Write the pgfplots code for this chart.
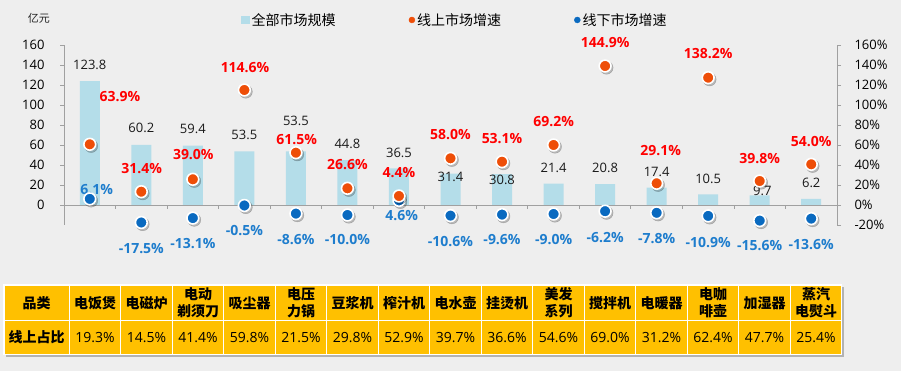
\documentclass[border=0pt]{standalone}
\usepackage{pgfplots}
\pgfplotsset{compat=1.18}
\usepackage{fontspec}
\setmainfont{Open Sans}
\newfontfamily\cjk{Noto Sans CJK SC}
\definecolor{bgc}{RGB}{238,238,238}
\definecolor{barblue}{RGB}{180,221,233}
\definecolor{dotred}{RGB}{238,78,8}
\definecolor{dotblue}{RGB}{10,106,192}
\definecolor{txtred}{RGB}{255,0,0}
\definecolor{txtblue}{RGB}{30,125,205}
\definecolor{axisgray}{RGB}{160,160,160}
\definecolor{tabgold}{RGB}{255,192,0}

\pgfplotstableread{
x bar red blue
0 123.8 60.7 6.1
1 60.2 13.3 -17.5
2 59.4 25.7 -13.1
3 53.5 115.0 -0.5
4 53.5 52.3 -8.6
5 44.8 16.7 -10.0
6 36.5 9.0 4.6
7 31.4 46.7 -10.6
8 30.8 43.3 -9.6
9 21.4 60.0 -9.0
10 20.8 139.0 -6.2
11 17.4 21.7 -7.8
12 10.5 127.3 -10.9
13 9.7 24.0 -15.6
14 6.2 40.7 -13.6
}\datatable

\pgfplotsset{
  common/.style={
    scale only axis, width=773pt, height=180pt,
    xmin=-0.5, xmax=14.5, ymin=-20, ymax=160,
    tick align=outside,
    major tick length=4pt,
    axis line style={draw=axisgray, line width=0.8pt},
    tick style={draw=axisgray, line width=0.8pt},
    /pgf/number format/assume math mode=true,
  }
}

\begin{document}
\begin{tikzpicture}
\fill[bgc] (0pt,0pt) rectangle (901pt,371pt);
\useasboundingbox (0pt,0pt) rectangle (901pt,371pt);

% y axis unit label
\node[font=\cjk\fontsize{11}{13}\selectfont, text=black!85] at (38.8pt,352.7pt) {亿元};

% x axis line at zero with category separators
\begin{axis}[
  at={(64pt,166pt)}, anchor=south west,
  scale only axis, width=773pt, height=20pt,
  xmin=-0.5, xmax=14.5, ymin=0, ymax=1,
  axis x line*=bottom, axis y line=none,
  xtick={0.5,1.5,...,13.5}, xticklabels={},
  tick align=outside, major tick length=4pt,
  axis line style={draw=axisgray, line width=0.8pt},
  tick style={draw=axisgray, line width=0.8pt},
]
\addplot[draw=none, forget plot] coordinates {(0,0)};
\end{axis}

\begin{axis}[
  common,
  at={(64pt,146pt)}, anchor=south west,
  axis x line=none, axis y line*=left,
  ytick={0,20,...,160},
  yticklabel style={font=\fontsize{13}{15}\selectfont, xshift=-12pt},
  clip=false,
  legend style={at={(axis description cs:0.229,1.139)}, anchor=west,
    draw=none, fill=none, inner sep=0pt, legend columns=3,
    font=\cjk\fontsize{14}{16}\selectfont,
    /tikz/every even column/.append style={column sep=71pt}},
  legend cell align=left,
]
\addplot[ybar, bar width=20pt, fill=barblue, draw=none,
  legend image code/.code={\fill[barblue] (0pt,-4.2pt) rectangle (8.5pt,4.2pt);}]
  table[x=x, y=bar] {\datatable};
\addlegendentry{全部市场规模}
\addlegendimage{legend image code/.code={\fill[dotred] (4.2pt,0pt) circle (3pt);}}
\addlegendentry{线上市场增速}
\addlegendimage{legend image code/.code={\fill[dotblue] (4.2pt,0pt) circle (3pt);}}
\addlegendentry{线下市场增速}

% shadows and dots
\addplot[forget plot, only marks, mark=*, mark size=6.6pt,
  mark options={fill=black, draw=none, opacity=0.22, xshift=1.4pt, yshift=-1.7pt}]
  table[x=x, y=blue] {\datatable};
\addplot[forget plot, only marks, mark=*, mark size=5.9pt,
  mark options={fill=dotblue, draw=white, line width=1.6pt}]
  table[x=x, y=blue] {\datatable};
\addplot[forget plot, only marks, mark=*, mark size=6.6pt,
  mark options={fill=black, draw=none, opacity=0.22, xshift=1.4pt, yshift=-1.7pt}]
  table[x=x, y=red] {\datatable};
\addplot[forget plot, only marks, mark=*, mark size=5.9pt,
  mark options={fill=dotred, draw=white, line width=1.6pt}]
  table[x=x, y=red] {\datatable};

% bar value labels
\begin{scope}[every node/.style={font=\fontsize{13}{15}\selectfont, text=black!90}]
\node at (axis cs:0,140) {123.8};
\node at (axis cs:1,76.7) {60.2};
\node at (axis cs:2,75.7) {59.4};
\node at (axis cs:3,70) {53.5};
\node at (axis cs:4,84) {53.5};
\node at (axis cs:5,60.7) {44.8};
\node at (axis cs:6,52.3) {36.5};
\node at (axis cs:7,27.7) {31.4};
\node at (axis cs:8,25.5) {30.8};
\node at (axis cs:9,37) {21.4};
\node at (axis cs:10,37) {20.8};
\node at (axis cs:11,33.3) {17.4};
\node at (axis cs:12,25.7) {10.5};
\node at (axis cs:13.05,14) {9.7};
\node at (axis cs:14,21.7) {6.2};
\end{scope}
% online growth labels
\begin{scope}[every node/.style={font=\bfseries\fontsize{14}{16}\selectfont, text=txtred}]
\node at (axis cs:0.587,108.3) {63.9\%};
\node at (axis cs:1.008,36.7) {31.4\%};
\node at (axis cs:2.009,50) {39.0\%};
\node at (axis cs:3.013,137.3) {114.6\%};
\node at (axis cs:4.016,65.7) {61.5\%};
\node at (axis cs:5,40) {26.6\%};
\node at (axis cs:6,32.3) {4.4\%};
\node at (axis cs:7,70.7) {58.0\%};
\node at (axis cs:8,66) {53.1\%};
\node at (axis cs:9,83.3) {69.2\%};
\node at (axis cs:10,162.3) {144.9\%};
\node at (axis cs:11.08,54.3) {29.1\%};
\node at (axis cs:12,151) {138.2\%};
\node at (axis cs:13,46.7) {39.8\%};
\node at (axis cs:14,63.3) {54.0\%};
\end{scope}
% offline growth labels
\begin{scope}[every node/.style={font=\bfseries\fontsize{14}{16}\selectfont, text=txtblue}]
\node at (axis cs:0.135,15) {6.1\%};
\node at (axis cs:1,-43.3) {-17.5\%};
\node at (axis cs:2,-39) {-13.1\%};
\node at (axis cs:3,-25.7) {-0.5\%};
\node at (axis cs:4,-34.3) {-8.6\%};
\node at (axis cs:5,-35) {-10.0\%};
\node at (axis cs:6.053,-11) {4.6\%};
\node at (axis cs:7,-36.7) {-10.6\%};
\node at (axis cs:8,-34.3) {-9.6\%};
\node at (axis cs:9,-35) {-9.0\%};
\node at (axis cs:10,-32.3) {-6.2\%};
\node at (axis cs:11,-33.3) {-7.8\%};
\node at (axis cs:12,-37.3) {-10.9\%};
\node at (axis cs:13,-40.7) {-15.6\%};
\node at (axis cs:14,-40) {-13.6\%};
\end{scope}
\end{axis}

\begin{axis}[
  common,
  at={(64pt,146pt)}, anchor=south west,
  axis y line*=right, axis x line=none,
  ytick={-20,0,...,160},
  yticklabel={\pgfmathprintnumber{\tick}\%},
  yticklabel style={font=\fontsize{13}{15}\selectfont, xshift=10pt},
]
\addplot[draw=none, forget plot] coordinates {(0,0)};
\end{axis}

% table
\fill[black!30] (6pt,14.2pt) rectangle (844pt,84pt);
\fill[tabgold] (4pt,16.7pt) rectangle (841.8pt,86pt);
\begin{scope}[draw=white, line width=1.3pt]
\draw (4pt,50.3pt) -- (841.8pt,50.3pt);
\draw (4pt,16.7pt) rectangle (841.8pt,86pt);
\foreach \k in {0,...,14} {
  \draw ({69.3pt+51.5pt*\k},16.7pt) -- ({69.3pt+51.5pt*\k},86pt);
}
\end{scope}
\begin{scope}[every node/.style={font=\cjk\bfseries\fontsize{14}{16.7}\selectfont, align=center, text=black, inner sep=0pt}]
\node at (36.65pt,68.15pt) {品类};
\node at (36.65pt,33.5pt) {线上占比};
\foreach \t [count=\k from 0] in {电饭煲,电磁炉,{电动\\剃须刀},吸尘器,{电压\\力锅},豆浆机,榨汁机,电水壶,挂烫机,{美发\\系列},搅拌机,电暖器,{电咖\\啡壶},加湿器,{蒸汽\\电熨斗}} {
  \node at ({69.3pt+51.5pt*(\k+0.5)},68.15pt) {\t};
}
\end{scope}
\begin{scope}[every node/.style={font=\fontsize{14}{16}\selectfont, text=black, inner sep=0pt}]
\foreach \v [count=\k from 0] in {19.3,14.5,41.4,59.8,21.5,29.8,52.9,39.7,36.6,54.6,69.0,31.2,62.4,47.7,25.4} {
  \node at ({69.3pt+51.5pt*(\k+0.5)},33.5pt) {\v\%};
}
\end{scope}
\end{tikzpicture}
\end{document}
